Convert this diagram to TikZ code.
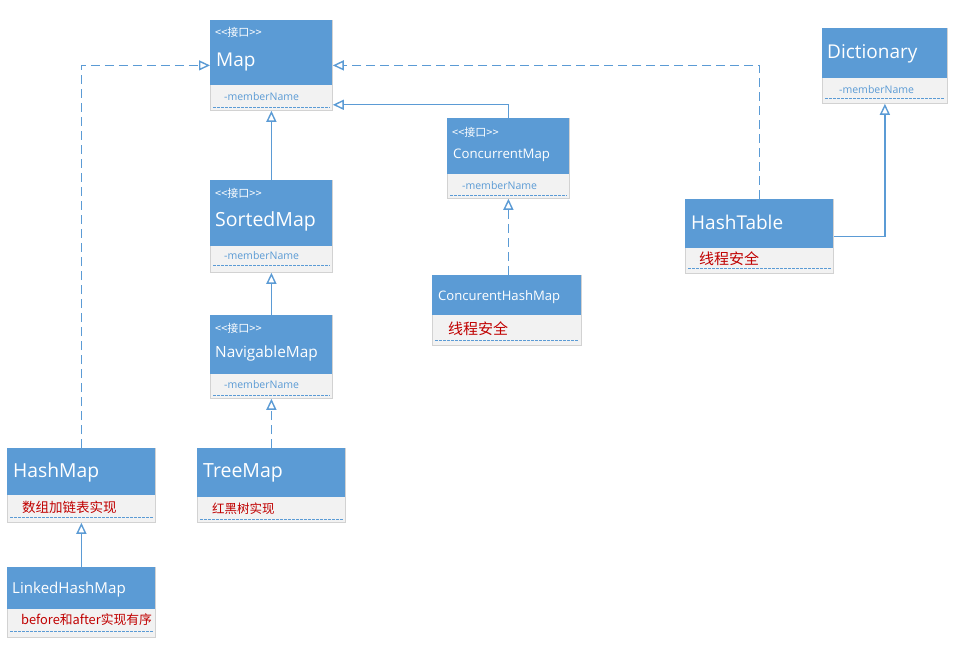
\documentclass[tikz,border=0pt]{standalone}
\usepackage{fontspec}
\setmainfont{Open Sans}
\newfontfamily\cjk{Noto Sans CJK SC}
\usepackage{tikz}
\usetikzlibrary{positioning,arrows.meta,calc}

\definecolor{umlblue}{RGB}{91,155,213}
\definecolor{umlgray}{RGB}{242,242,242}
\definecolor{umlframe}{RGB}{210,210,210}
\definecolor{umlred}{RGB}{192,0,0}

\begin{document}
\begin{tikzpicture}[
  x=1pt, y=-1pt,
  cls/.style={draw=umlframe, fill=umlgray, anchor=north west, inner sep=0pt, line width=0.8pt},
  head/.style={fill=umlblue, anchor=north west, inner sep=0pt},
  stereo/.style={anchor=base west, inner sep=0pt, text=white, font=\cjk\fontsize{11}{11}\selectfont},
  title/.style={anchor=base west, inner sep=0pt, text=white},
  member/.style={anchor=base west, inner sep=0pt, text=umlblue, font=\fontsize{10.5}{10.5}\selectfont},
  note/.style={anchor=base west, inner sep=0pt, text=umlred, font=\cjk\fontsize{#1}{#1}\selectfont},
  dotline/.style={draw=umlblue, line width=1pt, dash pattern=on 2.5pt off 1.5pt},
  gen/.style={draw=umlblue, line width=1.4pt, -{Triangle[open, length=11pt, width=10pt, fill=white]}},
  real/.style={gen, dash pattern=on 9pt off 5pt}
]
\useasboundingbox (0,0) rectangle (963,668);

% Map
\node[cls, minimum width=122pt, minimum height=90pt] (map) at (210,20) {};
\node[head, minimum width=122pt, minimum height=65pt] (mapH) at (map.north west) {};
\node[stereo] (mapS) at ($(mapH.north west)+(5,17)$) {<<接口>>};
\node[title, font=\fontsize{19}{19}\selectfont] (mapT) at ($(mapH.north west)+(6,47)$) {Map};
\node[member] (mapM) at ($(mapH.south west)+(14,15)$) {-memberName};
\draw[dotline] ($(map.south west)+(3,-3.5)$) -- ($(map.south east)+(-3,-3.5)$);

% Dictionary
\node[cls, minimum width=125pt, minimum height=75pt] (dict) at (822,28) {};
\node[head, minimum width=125pt, minimum height=50pt] (dictH) at (dict.north west) {};
\node[title, font=\fontsize{19}{19}\selectfont] (dictT) at ($(dictH.north west)+(5,31)$) {Dictionary};
\node[member] (dictM) at ($(dictH.south west)+(17,15)$) {-memberName};
\draw[dotline] ($(dict.south west)+(3,-5.5)$) -- ($(dict.south east)+(-3,-5.5)$);

% ConcurrentMap
\node[cls, minimum width=122pt, minimum height=80pt] (cmap) at (447,118) {};
\node[head, minimum width=122pt, minimum height=56pt] (cmapH) at (cmap.north west) {};
\node[stereo] (cmapS) at ($(cmapH.north west)+(5,19)$) {<<接口>>};
\node[title, font=\fontsize{13.2}{13.2}\selectfont] (cmapT) at ($(cmapH.north west)+(6,41)$) {ConcurrentMap};
\node[member] (cmapM) at ($(cmapH.south west)+(15,15)$) {-memberName};
\draw[dotline] ($(cmap.south west)+(3,-3.5)$) -- ($(cmap.south east)+(-3,-3.5)$);

% SortedMap
\node[cls, minimum width=122pt, minimum height=92pt] (sorted) at (210,180) {};
\node[head, minimum width=122pt, minimum height=66pt] (sortedH) at (sorted.north west) {};
\node[stereo] (sortedS) at ($(sortedH.north west)+(5,18)$) {<<接口>>};
\node[title, font=\fontsize{19.5}{19.5}\selectfont] (sortedT) at ($(sortedH.north west)+(5,47)$) {SortedMap};
\node[member] (sortedM) at ($(sortedH.south west)+(14,13)$) {-memberName};
\draw[dotline] ($(sorted.south west)+(3,-7.5)$) -- ($(sorted.south east)+(-3,-7.5)$);

% NavigableMap
\node[cls, minimum width=122pt, minimum height=83pt] (navi) at (210,315) {};
\node[head, minimum width=122pt, minimum height=59pt] (naviH) at (navi.north west) {};
\node[stereo] (naviS) at ($(naviH.north west)+(5,17)$) {<<接口>>};
\node[title, font=\fontsize{15.4}{15.4}\selectfont] (naviT) at ($(naviH.north west)+(5,42)$) {NavigableMap};
\node[member] (naviM) at ($(naviH.south west)+(14,14)$) {-memberName};
\draw[dotline] ($(navi.south west)+(3,-3.5)$) -- ($(navi.south east)+(-3,-3.5)$);

% ConcurentHashMap
\node[cls, minimum width=149pt, minimum height=70pt] (chm) at (432,275) {};
\node[head, minimum width=149pt, minimum height=40pt] (chmH) at (chm.north west) {};
\node[title, font=\fontsize{13.1}{13.1}\selectfont] (chmT) at ($(chmH.north west)+(6,25)$) {ConcurentHashMap};
\node[note=15] (chmN) at ($(chmH.south west)+(16,19)$) {线程安全};
\draw[dotline] ($(chm.south west)+(3,-5.5)$) -- ($(chm.south east)+(-3,-5.5)$);

% HashTable
\node[cls, minimum width=148pt, minimum height=74pt] (htab) at (685,199) {};
\node[head, minimum width=148pt, minimum height=49pt] (htabH) at (htab.north west) {};
\node[title, font=\fontsize{19}{19}\selectfont] (htabT) at ($(htabH.north west)+(6,31)$) {HashTable};
\node[note=15] (htabN) at ($(htabH.south west)+(14,16)$) {线程安全};
\draw[dotline] ($(htab.south west)+(3,-5.5)$) -- ($(htab.south east)+(-3,-5.5)$);

% HashMap
\node[cls, minimum width=148pt, minimum height=74pt] (hmap) at (7,448) {};
\node[head, minimum width=148pt, minimum height=47pt] (hmapH) at (hmap.north west) {};
\node[title, font=\fontsize{19.3}{19.3}\selectfont] (hmapT) at ($(hmapH.north west)+(6,29)$) {HashMap};
\node[note=13.5] (hmapN) at ($(hmapH.south west)+(15,17)$) {数组加链表实现};
\draw[dotline] ($(hmap.south west)+(3,-5.5)$) -- ($(hmap.south east)+(-3,-5.5)$);

% TreeMap
\node[cls, minimum width=148pt, minimum height=74pt] (tmap) at (197,448) {};
\node[head, minimum width=148pt, minimum height=49pt] (tmapH) at (tmap.north west) {};
\node[title, font=\fontsize{19.5}{19.5}\selectfont] (tmapT) at ($(tmapH.north west)+(6,29)$) {TreeMap};
\node[note=12.5] (tmapN) at ($(tmapH.south west)+(15,16)$) {红黑树实现};
\draw[dotline] ($(tmap.south west)+(3,-3.5)$) -- ($(tmap.south east)+(-3,-3.5)$);

% LinkedHashMap
\node[cls, minimum width=148pt, minimum height=70pt] (lhm) at (7,567) {};
\node[head, minimum width=148pt, minimum height=42pt] (lhmH) at (lhm.north west) {};
\node[title, font=\fontsize{15.1}{15.1}\selectfont] (lhmT) at ($(lhmH.north west)+(5,26)$) {LinkedHashMap};
\node[note=12.8] (lhmN) at ($(lhmH.south west)+(14,15)$) {before和after实现有序};
\draw[dotline] ($(lhm.south west)+(3,-6.5)$) -- ($(lhm.south east)+(-3,-6.5)$);

% connectors
\draw[real] (hmap.north) |- (map.west);
\draw[real] (htab.north) |- (map.east);
\draw[gen] (cmap.north) |- ($(map.south east)+(0,-6)$);
\draw[gen] (sorted.north) -- (map.south);
\draw[gen] (navi.north) -- (sorted.south);
\draw[real] (tmap.north) -- (navi.south);
\draw[real] (chm.north -| cmap.south) -- (cmap.south);
\draw[gen] (htab.east) -| (dict.south);
\draw[gen] (lhm.north) -- (hmap.south);
\end{tikzpicture}
\end{document}
